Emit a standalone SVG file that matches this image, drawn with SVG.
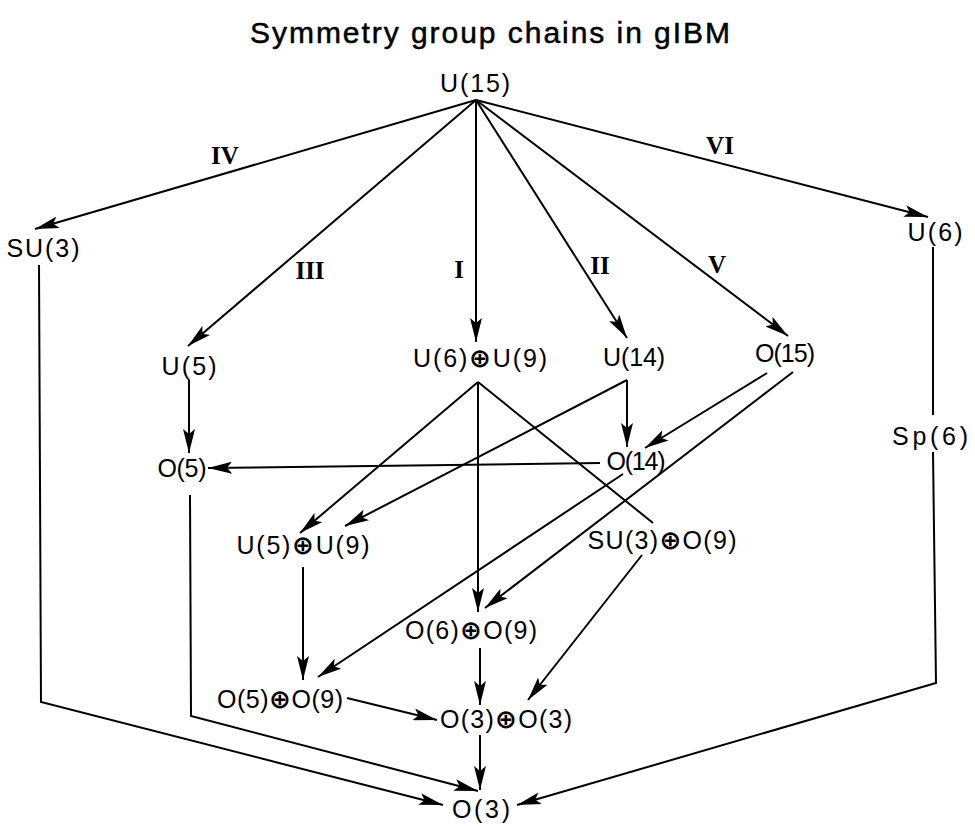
<svg xmlns="http://www.w3.org/2000/svg" width="975" height="826" viewBox="0 0 975 826">
<defs>
<style>
.t{font-family:"Liberation Sans",Arial,sans-serif;font-size:25px;fill:#000;text-anchor:middle}
.o{font-family:"DejaVu Sans",sans-serif;font-weight:bold;font-size:26px}
.r{font-family:"Liberation Serif","Times New Roman",serif;font-weight:bold;font-size:25px;text-anchor:middle;fill:#000}
.e line,.e polyline{stroke:#000;stroke-width:2;fill:none}
.a{marker-end:url(#ah)}
</style>
<marker id="ah" viewBox="0 0 24 12" refX="24" refY="6" markerWidth="24" markerHeight="12" orient="auto" markerUnits="userSpaceOnUse">
<path d="M0,0 L24,6 L0,12 L5,6 Z" fill="#000"/>
</marker>
</defs>
<rect width="975" height="826" fill="#fff"/>
<text x="490" y="43" style="font-family:'Liberation Sans',Arial,sans-serif;font-size:30px;text-anchor:middle;stroke:#000;stroke-width:0.5" textLength="480" lengthAdjust="spacing">Symmetry group chains in gIBM</text>

<g class="e" id="connectors">
<line class="a" x1="476" y1="100" x2="35" y2="229"/>
<line class="a" x1="476" y1="100" x2="188" y2="346"/>
<line class="a" x1="476" y1="100" x2="476" y2="342"/>
<line class="a" x1="476" y1="100" x2="627" y2="338"/>
<line class="a" x1="476" y1="100" x2="788" y2="336"/>
<line class="a" x1="476" y1="100" x2="928" y2="217"/>
<polyline class="a" points="39,265 41,702 443,805"/>
<line class="a" x1="189" y1="380" x2="189" y2="453"/>
<polyline class="a" points="190,495 191,716 478,791"/>
<line class="a" x1="478" y1="382" x2="300" y2="533"/>
<line class="a" x1="478" y1="382" x2="478" y2="612"/>
<line x1="478" y1="382" x2="653" y2="523"/>
<line class="a" x1="627" y1="380" x2="627" y2="447"/>
<line class="a" x1="627" y1="380" x2="345" y2="526"/>
<line class="a" x1="767" y1="373" x2="645" y2="448"/>
<line class="a" x1="793" y1="372" x2="485" y2="608"/>
<line class="a" x1="600" y1="463" x2="208" y2="468"/>
<line class="a" x1="623" y1="474" x2="318" y2="677"/>
<line class="a" x1="303" y1="567" x2="303" y2="680"/>
<line class="a" x1="642" y1="555" x2="528" y2="700"/>
<line class="a" x1="480" y1="648" x2="480" y2="705"/>
<line class="a" x1="347" y1="698" x2="437" y2="720"/>
<line class="a" x1="480" y1="735" x2="480" y2="790"/>
<line x1="933" y1="247" x2="933" y2="415"/>
<polyline class="a" points="933,452 936,683 517,805"/>
</g>

<g id="labels">
<text class="r" x="225" y="164">IV</text>
<text class="r" x="310" y="279">III</text>
<text class="r" x="459" y="278">I</text>
<text class="r" x="600" y="274">II</text>
<text class="r" x="717" y="273">V</text>
<text class="r" x="720" y="154">VI</text>
</g>

<g id="n-U15"><text class="t" x="475" y="92" textLength="70">U(15)</text></g>
<g id="n-SU3"><text class="t" x="43" y="257" textLength="73">SU(3)</text></g>
<g id="n-U6"><text class="t" x="935" y="241" textLength="55">U(6)</text></g>
<g id="n-U5"><text class="t" x="189" y="375" textLength="55">U(5)</text></g>
<g id="n-U6U9"><text class="t" x="480" y="367" textLength="134">U(6)<tspan class="o">⊕</tspan>U(9)</text></g>
<g id="n-U14"><text class="t" x="634" y="366" textLength="62">U(14)</text></g>
<g id="n-O15"><text class="t" x="785" y="362" textLength="60">O(15)</text></g>
<g id="n-O5"><text class="t" x="182" y="477" textLength="49">O(5)</text></g>
<g id="n-O14"><text class="t" x="636" y="470" textLength="59">O(14)</text></g>
<g id="n-Sp6"><text class="t" x="930" y="445" textLength="76">Sp(6)</text></g>
<g id="n-U5U9"><text class="t" x="303" y="554" textLength="133">U(5)<tspan class="o">⊕</tspan>U(9)</text></g>
<g id="n-SU3O9"><text class="t" x="662" y="549" textLength="149">SU(3)<tspan class="o">⊕</tspan>O(9)</text></g>
<g id="n-O6O9"><text class="t" x="471" y="639" textLength="132">O(6)<tspan class="o">⊕</tspan>O(9)</text></g>
<g id="n-O5O9"><text class="t" x="280" y="708" textLength="126">O(5)<tspan class="o">⊕</tspan>O(9)</text></g>
<g id="n-O3O3"><text class="t" x="506" y="728" textLength="132">O(3)<tspan class="o">⊕</tspan>O(3)</text></g>
<g id="n-O3"><text class="t" x="481" y="818" textLength="58">O(3)</text></g>
</svg>
